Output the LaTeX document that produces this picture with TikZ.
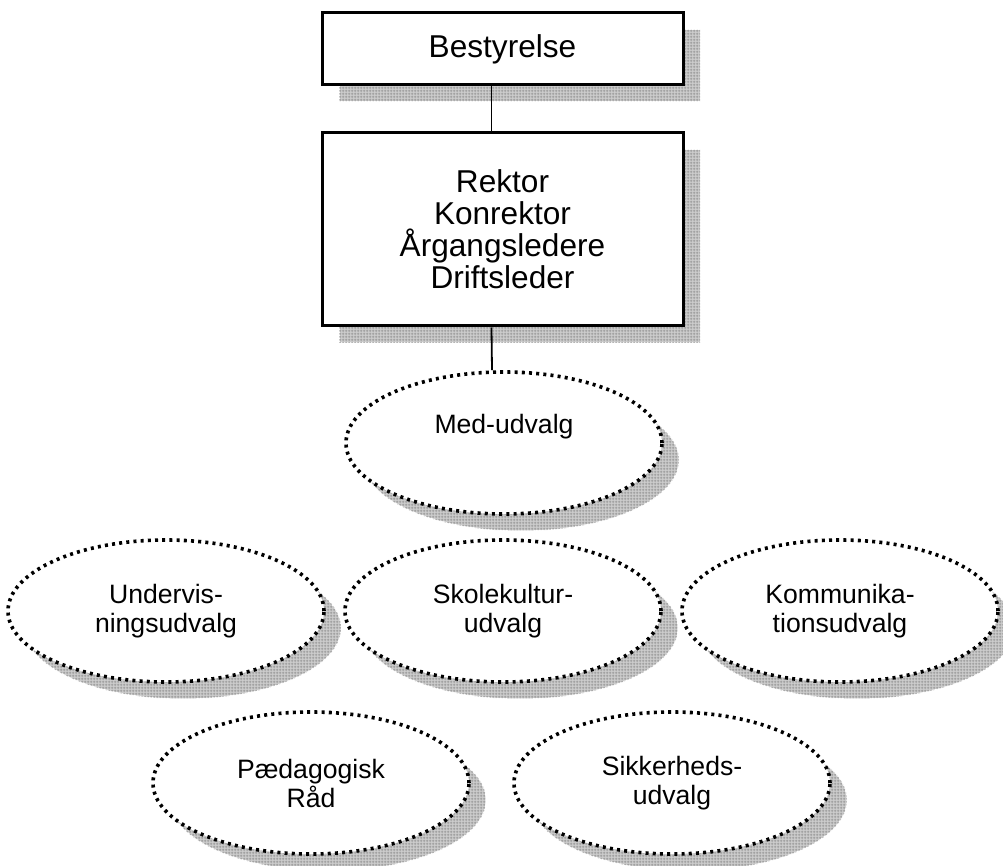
\documentclass[tikz,border=0pt]{standalone}
\usepackage{fontspec}
\setmainfont{Liberation Sans}
\usetikzlibrary{shapes.geometric,shadows,patterns,positioning}

% fine grey grid for the shadows
\pgfdeclarepatternformonly{finegrid}{\pgfpointorigin}{\pgfqpoint{1.5pt}{1.5pt}}{\pgfqpoint{1.5pt}{1.5pt}}{%
  \pgfsetlinewidth{0.4pt}
  \pgfpathmoveto{\pgfqpoint{0pt}{0.75pt}}\pgfpathlineto{\pgfqpoint{1.5pt}{0.75pt}}
  \pgfpathmoveto{\pgfqpoint{0.75pt}{0pt}}\pgfpathlineto{\pgfqpoint{0.75pt}{1.5pt}}
  \pgfusepath{stroke}}

\tikzset{
  gridshadow/.style={drop shadow={shadow xshift=8.5pt, shadow yshift=-8.5pt, opacity=1,
      fill=gray!40, draw=white, solid, line width=0.5pt,
      postaction={pattern=finegrid, pattern color=gray!90}}},
  orgbox/.style={draw, line width=1.5pt, fill=white, minimum width=180.5pt, align=center,
      font=\fontsize{15.8}{16}\selectfont, gridshadow},
  udvalg/.style={ellipse, draw, line width=1.8pt, dash pattern=on 1.5pt off 2.1pt,
      fill=white, minimum width=158pt, minimum height=71pt, inner sep=0pt, gridshadow},
  utxt/.style={align=center, font=\fontsize{13.3}{14.5}\selectfont},
  forbind/.style={line width=0.9pt}
}

\begin{document}
\begin{tikzpicture}[x=0.5pt, y=-0.5pt]
  \useasboundingbox (0,0) rectangle (1003,866);

  % Ledelse
  \node[orgbox, minimum height=36pt] (bestyr) at (502.5,49) {Bestyrelse};
  \node[orgbox, minimum height=96.5pt] (ledelse) at (502.5,229.5)
    {Rektor\\Konrektor\\Årgangsledere\\Driftsleder};

  % Udvalg
  \node[udvalg] (med) at (504,443) {};
  \node[udvalg] (underv) at (166,611) {};
  \node[udvalg] (skole) at (503,611) {};
  \node[udvalg] (komm) at (840,611) {};
  \node[udvalg] (paed) at (311,783) {};
  \node[udvalg] (sikker) at (672,783) {};

  \node[utxt] (tmed) at ([yshift=8pt]med.center) {Med-udvalg};
  \node[utxt] (tunderv) at (underv.center) {Undervis-\\ningsudvalg};
  \node[utxt] (tskole) at (skole.center) {Skolekultur-\\udvalg};
  \node[utxt] (tkomm) at (komm.center) {Kommunika-\\tionsudvalg};
  \node[utxt] (tpaed) at (paed.center) {Pædagogisk\\Råd};
  \node[utxt] (tsikker) at (sikker.center) {Sikkerheds-\\udvalg};

  % Forbindelser
  \draw[forbind] ([xshift=-5.5pt]bestyr.south) -- ([xshift=-5.5pt]ledelse.north);
  \draw[forbind] ([xshift=-5.5pt]ledelse.south) -- ([xshift=-6pt]med.north);
\end{tikzpicture}
\end{document}
